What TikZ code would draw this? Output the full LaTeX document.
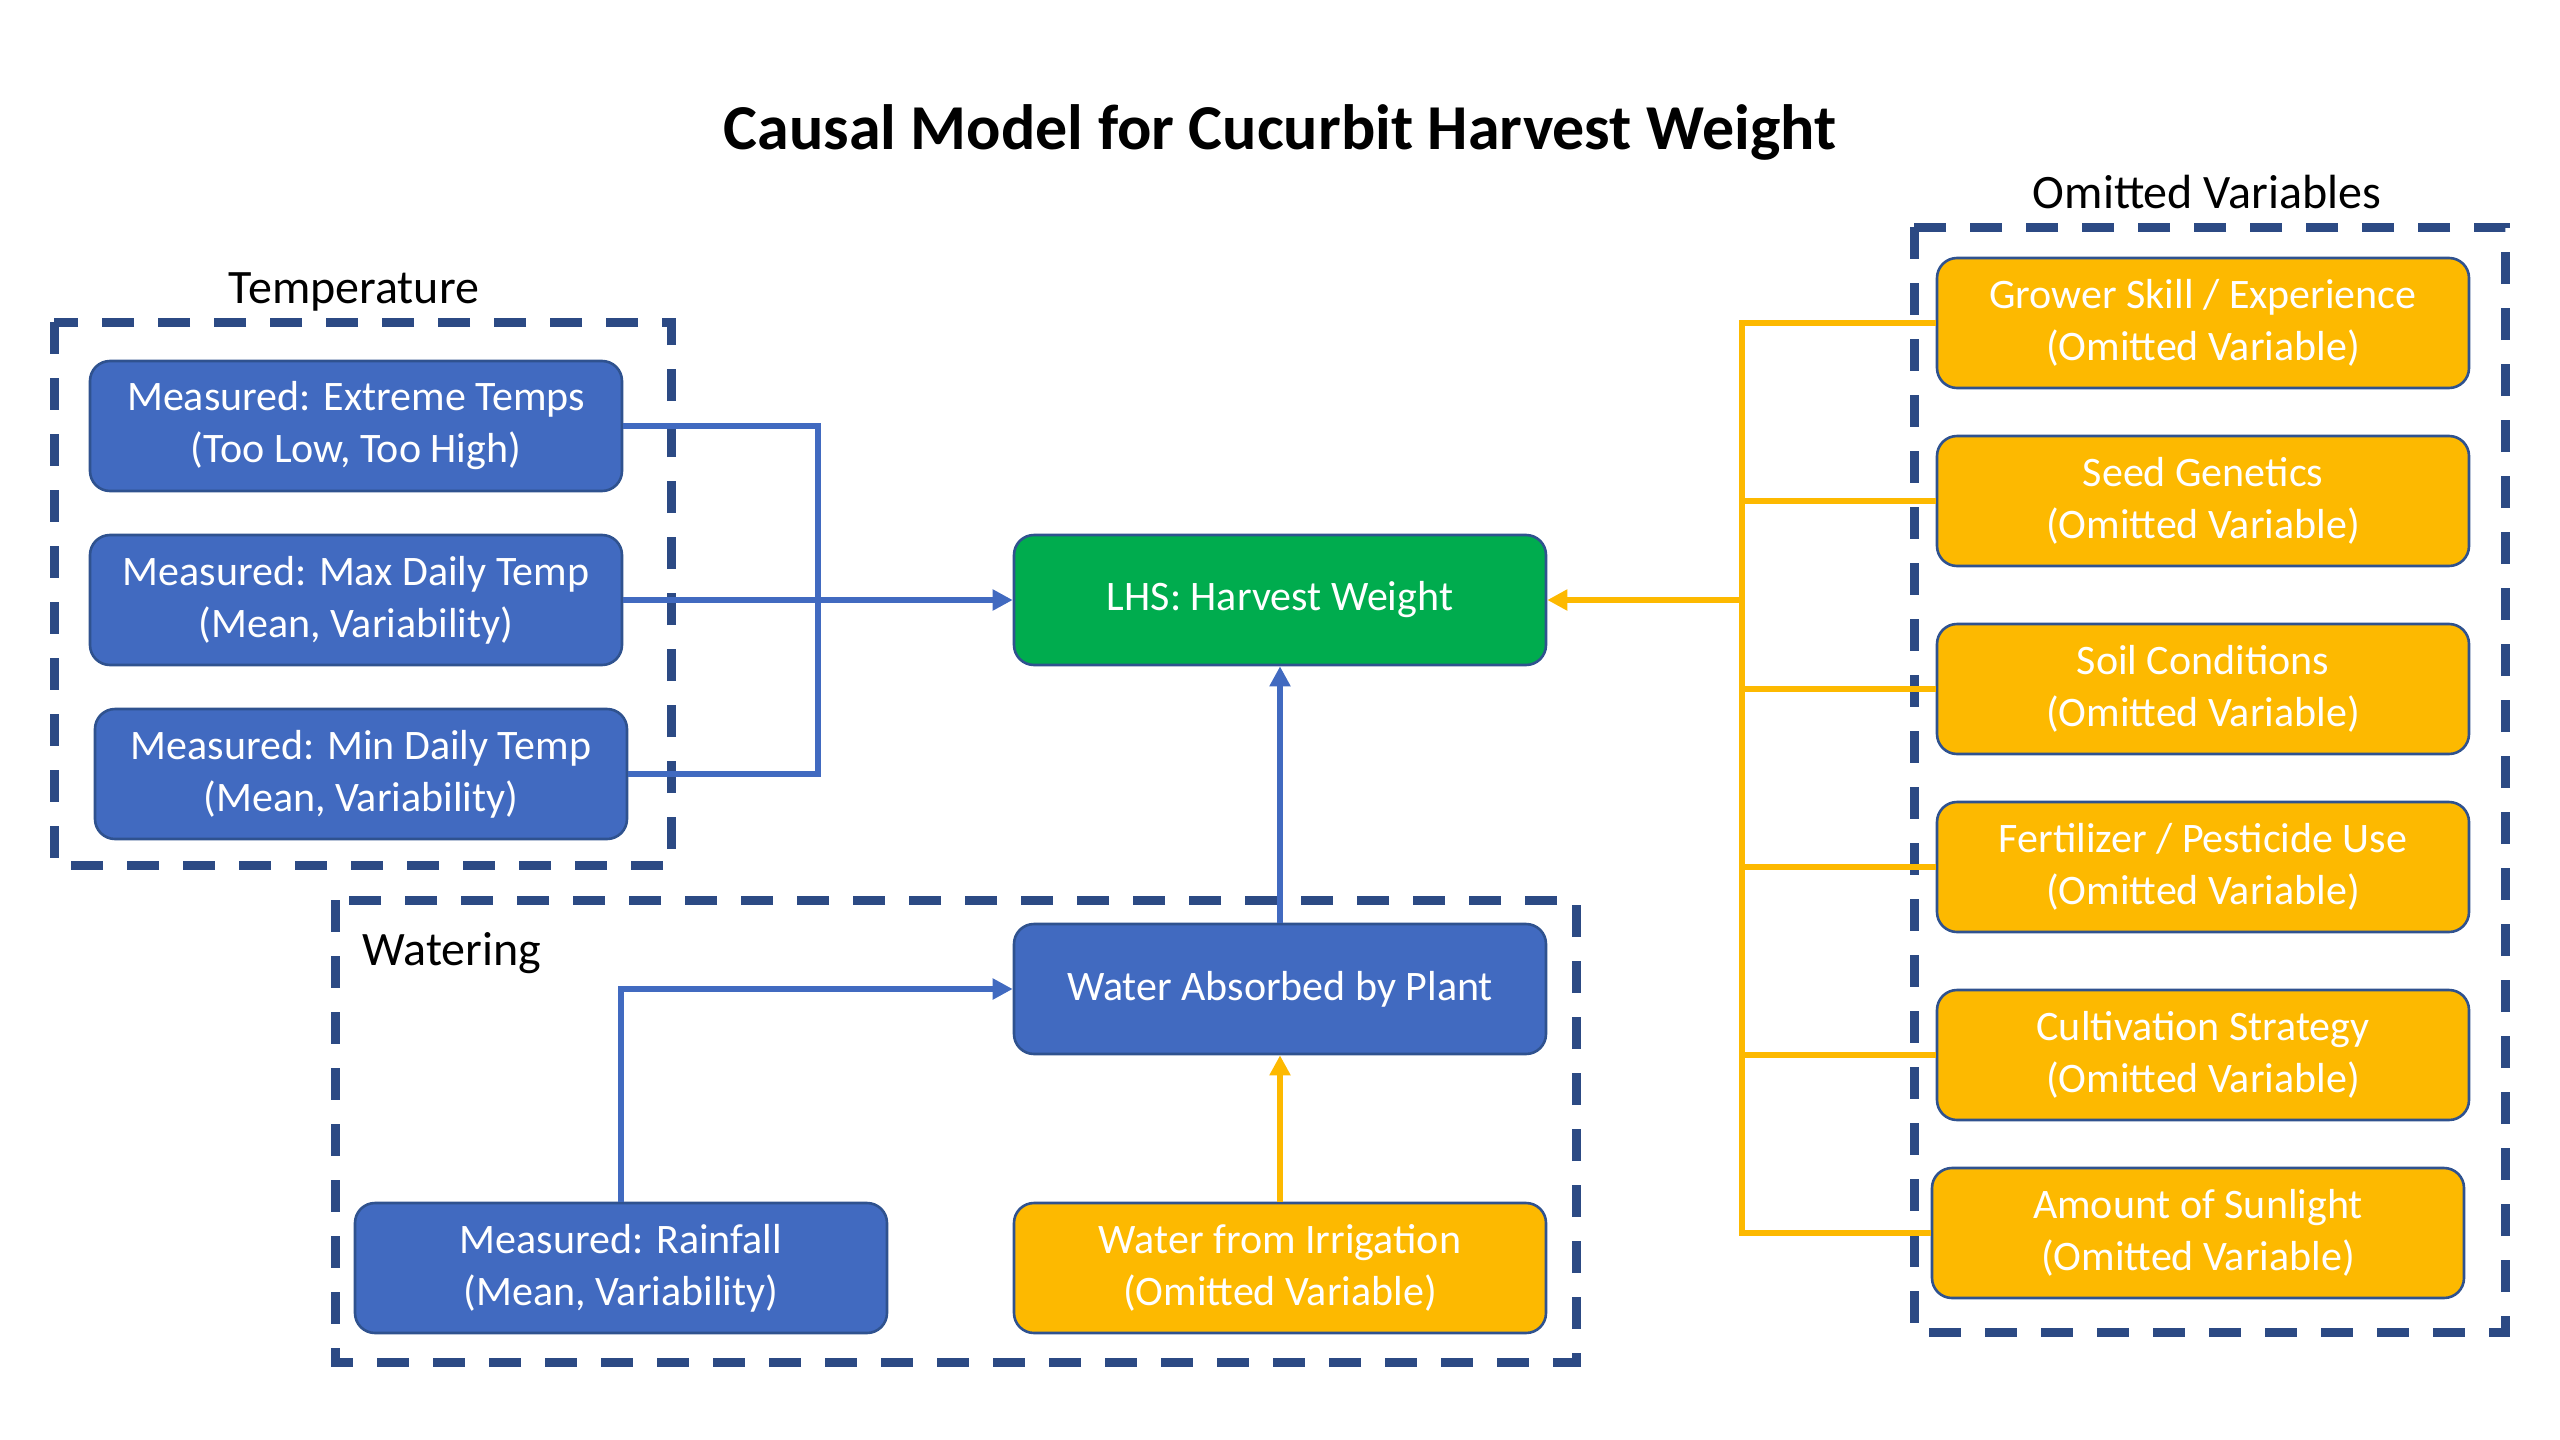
\documentclass[tikz,border=0pt]{standalone}
\usepackage{fontspec}
\setmainfont{Carlito}
\usetikzlibrary{arrows.meta}
\definecolor{boxblue}{RGB}{65,106,192}
\definecolor{edgeblue}{RGB}{47,82,143}
\definecolor{gold}{RGB}{253,185,0}
\definecolor{lhsgreen}{RGB}{0,172,78}
\definecolor{dashblue}{RGB}{44,74,132}
\tikzset{
  vbox/.style={rectangle, rounded corners=10pt, draw=edgeblue, line width=1.3pt,
    minimum width=266pt, minimum height=65pt, align=center, text=white,
    font=\fontsize{21}{26}\selectfont, inner sep=0pt},
  bluebox/.style={vbox, fill=boxblue},
  goldbox/.style={vbox, fill=gold},
  greenbox/.style={vbox, fill=lhsgreen},
  group/.style={draw=dashblue, line width=4.5pt, dash pattern=on 16pt off 12pt},
  glabel/.style={font=\fontsize{24}{29}\selectfont, text=black, inner sep=0pt},
  bc/.style={draw=boxblue, line width=2.9pt},
  yc/.style={draw=gold, line width=2.9pt},
  tip/.style={-{Triangle[length=10pt,width=10pt]}}
}
\begin{document}
\begin{tikzpicture}[x=0.5pt,y=-0.5pt]
\useasboundingbox (0,0) rectangle (2560,1440);
% title
\node[font=\bfseries\fontsize{32}{38}\selectfont, inner sep=0pt] (title) at (1280,132) {Causal Model for Cucurbit Harvest Weight};
% group frames
\draw[group] (54,322) rectangle (671,865);
\draw[group] (335,900) rectangle (1576,1362);
\draw[group] (1914,227) rectangle (2505,1332);
\node[glabel] (ltemp) at (354,292) {Temperature};
\node[glabel, anchor=west] (lwater) at (362,953) {Watering};
\node[glabel] (lomit) at (2207,192) {Omitted Variables};
% temperature
\node[bluebox] (ext) at (356,426) {Measured: Extreme Temps\\(Too Low, Too High)};
\node[bluebox] (mx) at (356,600) {Measured: Max Daily Temp\\(Mean, Variability)};
\node[bluebox] (mn) at (361,774) {Measured: Min Daily Temp\\(Mean, Variability)};
% center
\node[greenbox] (lhs) at (1280,600) {LHS: Harvest Weight};
\node[bluebox] (wa) at (1280,989) {Water Absorbed by Plant};
\node[bluebox] (rain) at (621,1268) {Measured: Rainfall\\(Mean, Variability)};
\node[goldbox] (irr) at (1280,1268) {Water from Irrigation\\(Omitted Variable)};
% omitted
\node[goldbox] (g1) at (2203,323) {Grower Skill / Experience\\(Omitted Variable)};
\node[goldbox] (g2) at (2203,501) {Seed Genetics\\(Omitted Variable)};
\node[goldbox] (g3) at (2203,689) {Soil Conditions\\(Omitted Variable)};
\node[goldbox] (g4) at (2203,867) {Fertilizer / Pesticide Use\\(Omitted Variable)};
\node[goldbox] (g5) at (2203,1055) {Cultivation Strategy\\(Omitted Variable)};
\node[goldbox] (g6) at (2198,1233) {Amount of Sunlight\\(Omitted Variable)};
% connectors temperature
\coordinate (tj) at (818,600);
\draw[bc] (ext.east) -| (tj);
\draw[bc] (mn.east) -| (tj);
\draw[bc,tip] (mx.east) -- (lhs.west);
% watering
\draw[bc,tip] (wa.north) -- (lhs.south);
\draw[bc,tip] (rain.north) |- (wa.west);
\draw[yc,tip] (irr.north) -- (wa.south);
% omitted
\coordinate (yt) at (1742,600);
\foreach \n in {g1,g2,g3,g4,g5,g6} { \draw[yc] (\n.west) -| (yt); }
\draw[yc,tip] (yt) -- (lhs.east);
\end{tikzpicture}
\end{document}
